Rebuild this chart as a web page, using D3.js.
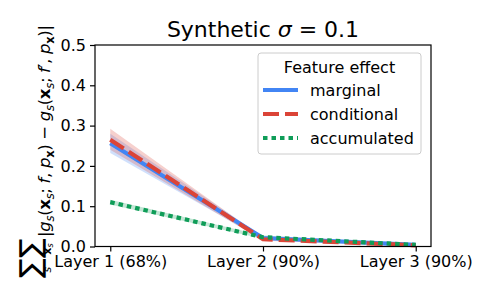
<!DOCTYPE html>
<html>
<head>
<meta charset="utf-8">
<script src="https://cdn.jsdelivr.net/npm/d3@7"></script>
<style>
  body { margin: 0; background: #fff; }
  svg { display: block; font-family: "DejaVu Sans", sans-serif; }
</style>
</head>
<body>
<svg id="chart" width="488" height="293"></svg>
<script>
const layers = ["Layer 1 (68%)", "Layer 2 (90%)", "Layer 3 (90%)"];
const yTicks = [0.0, 0.1, 0.2, 0.3, 0.4, 0.5];

const marginal = [0.256, 0.021, 0.004];
const marginalLo = [0.232, 0.017, 0.002];
const marginalHi = [0.28, 0.025, 0.006];

const conditional = [0.265, 0.018, 0.003];
const conditionalLo = [0.24, 0.014, 0.001];
const conditionalHi = [0.292, 0.022, 0.005];

const accumulated = [0.11, 0.023, 0.004];
const accumulatedLo = [0.104, 0.019, 0.002];
const accumulatedHi = [0.116, 0.027, 0.006];

const series = [
  { name: "marginal", values: marginal, lo: marginalLo, hi: marginalHi, color: "#4285F4", dash: null },
  { name: "conditional", values: conditional, lo: conditionalLo, hi: conditionalHi, color: "#DB4437", dash: "16,6" },
  { name: "accumulated", values: accumulated, lo: accumulatedLo, hi: accumulatedHi, color: "#0F9D58", dash: "4.5,4" },
];

const svg = d3.select("#chart");
const mLeft = 95, mRight = 431, mTop = 45, mBottom = 246.5;

// matplotlib style 5% margins on x
const xScale = d3.scaleLinear().domain([-0.1, 2.1]).range([mLeft, mRight]);
const yScale = d3.scaleLinear().domain([0, 0.5]).range([mBottom, mTop]);

// bands
series.forEach((s) => {
  const area = d3
    .area()
    .x((d, i) => xScale(i))
    .y0((d, i) => yScale(s.lo[i]))
    .y1((d, i) => yScale(s.hi[i]));
  svg.append("path").attr("d", area(s.values)).attr("fill", s.color).attr("opacity", 0.25);
});

// lines
series.forEach((s) => {
  const line = d3
    .line()
    .x((d, i) => xScale(i))
    .y((d) => yScale(d));
  svg
    .append("path")
    .attr("d", line(s.values))
    .attr("fill", "none")
    .attr("stroke", s.color)
    .attr("stroke-width", 4.2)
    .attr("stroke-dasharray", s.dash);
});

// axes
const yAxis = svg
  .append("g")
  .attr("transform", `translate(${mLeft},0)`)
  .call(d3.axisLeft(yScale).tickValues(yTicks).tickFormat(d3.format(".1f")).tickSize(5).tickPadding(4).tickSizeOuter(0));
yAxis.selectAll("text").attr("font-size", 16).attr("fill", "#000").attr("font-family", "DejaVu Sans");

const xAxis = svg
  .append("g")
  .attr("transform", `translate(0,${mBottom})`)
  .call(d3.axisBottom(xScale).tickValues([0, 1, 2]).tickFormat((d) => layers[d]).tickSize(5).tickPadding(4).tickSizeOuter(0));
xAxis.selectAll("text").attr("font-size", 16).attr("fill", "#000").attr("font-family", "DejaVu Sans");

svg.selectAll(".domain").remove();
svg.selectAll(".tick line").attr("stroke", "#000").attr("stroke-width", 1.2);

svg
  .append("rect")
  .attr("x", mLeft)
  .attr("y", mTop)
  .attr("width", mRight - mLeft)
  .attr("height", mBottom - mTop)
  .attr("fill", "none")
  .attr("stroke", "#000")
  .attr("stroke-width", 1.2);

// title
const title = svg
  .append("text")
  .attr("x", (mLeft + mRight) / 2)
  .attr("y", 36.5)
  .attr("text-anchor", "middle")
  .attr("font-size", 22);
title.append("tspan").text("Synthetic  ");
title.append("tspan").attr("font-style", "italic").text("σ");
title.append("tspan").text(" = 0.1");

// y label (rotated math text)
const yl = svg.append("g").attr("transform", "translate(50,277) rotate(-90)");
yl.append("text").attr("x", -1).attr("y", -10).attr("font-size", 29).text("∑");
yl.append("text").attr("x", 7.5).attr("y", 1).attr("font-size", 11).attr("text-anchor", "middle").attr("font-style", "italic").text("s");
yl.append("text").attr("x", 19).attr("y", -10).attr("font-size", 29).text("∑");
const sub2 = yl.append("text").attr("x", 28).attr("y", 1).attr("font-size", 11).attr("text-anchor", "middle");
sub2.append("tspan").attr("font-weight", "bold").text("x");
sub2.append("tspan").attr("font-size", 8).attr("font-style", "italic").attr("dy", 2).text("s");

const pieces = [
  ["|", ""], ["g", "i"], ["s", "si"], ["(", ""], ["x", "b"], ["s", "si"], ["; ", ""],
  ["f", "i"], [", ", ""], ["p", "i"], ["x", "sb"], [")", ""], [" − ", ""],
  ["g", "i"], ["s", "si"], ["(", ""], ["x", "b"], ["s", "si"], ["; ", ""],
  ["f", "i"], ["′", ""], [", ", ""], ["p", "i"], ["x", "sb"], [")|", ""],
];
const main = yl.append("text").attr("x", 40).attr("y", 0).attr("font-size", 16.5);
let shift = 0;
pieces.forEach(([t, st]) => {
  const sub = st[0] == "s";
  const target = sub ? 3.5 : 0;
  const ts = main.append("tspan").attr("dy", target - shift).text(t);
  shift = target;
  if (sub) ts.attr("font-size", 11.5);
  if (st.includes("i")) ts.attr("font-style", "italic");
  if (st.includes("b")) ts.attr("font-weight", "bold");
});
main.attr("textLength", 212).attr("lengthAdjust", "spacing");

// legend
const lg = svg.append("g");
lg.append("rect")
  .attr("x", 258).attr("y", 53).attr("width", 163).attr("height", 101).attr("rx", 3)
  .attr("fill", "#fff").attr("fill-opacity", 0.8).attr("stroke", "#cccccc").attr("stroke-width", 1);
lg.append("text").attr("x", 339.5).attr("y", 73).attr("text-anchor", "middle").attr("font-size", 16).text("Feature effect");
series.forEach((s, i) => {
  const yy = 90 + i * 24;
  lg.append("line")
    .attr("x1", 263).attr("x2", 298).attr("y1", yy).attr("y2", yy)
    .attr("stroke", s.color).attr("stroke-width", 4.2).attr("stroke-dasharray", s.dash);
  lg.append("text").attr("x", 310).attr("y", yy + 6).attr("font-size", 16).text(s.name);
});
</script>
</body>
</html>
